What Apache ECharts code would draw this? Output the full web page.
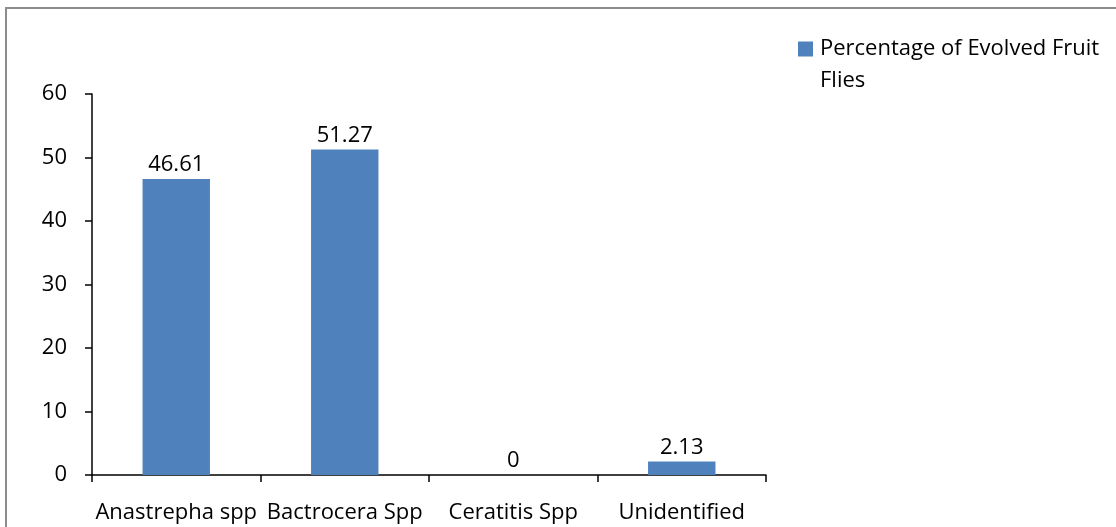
<!DOCTYPE html>
<html>
<head>
<meta charset="utf-8">
<script src="https://cdn.jsdelivr.net/npm/echarts@6/dist/echarts.min.js"></script>
<style>
  html, body { margin: 0; padding: 0; background: #fff; }
  #chart { width: 1116px; height: 527px; }
</style>
</head>
<body>
<div id="chart"></div>
<script>
// Fruit fly species share
const categories = ['Anastrepha spp', 'Bactrocera Spp', 'Ceratitis Spp', 'Unidentified'];
const percentages = [46.61, 51.27, 0, 2.13];
const seriesName = 'Percentage of Evolved Fruit Flies';
const yTicks = { min: 0, max: 60, interval: 10 };

const FONT = '"Open Sans", "Noto Sans", sans-serif';
const FS = 22;
const chart = echarts.init(document.getElementById('chart'), null, { renderer: 'canvas' });

chart.setOption({
  backgroundColor: '#ffffff',
  animation: false,
  textStyle: { fontFamily: FONT, color: '#000' },
  graphic: [
    {
      type: 'rect',
      shape: { x: 6, y: 8, width: 1120, height: 530 },
      style: { fill: 'none', stroke: '#8c8c8c', lineWidth: 2 },
      silent: true
    },
    {
      type: 'text',
      left: 820,
      top: 70,
      style: { text: 'Flies', font: FS + 'px ' + FONT, fill: '#000' },
      silent: true
    }
  ],
  legend: {
    left: 798,
    top: 38,
    padding: 0,
    itemWidth: 15,
    itemHeight: 15,
    itemGap: 6,
    formatter: function (name) { return name.replace(/\s+Flies$/, ''); },
    textStyle: { fontFamily: FONT, fontSize: FS, color: '#000', padding: [0, 0, 0, 2] },
    data: [{ name: seriesName, icon: 'rect', itemStyle: { borderWidth: 0 } }]
  },
  grid: { left: 92, right: 350, top: 94, bottom: 52, containLabel: false },
  xAxis: {
    type: 'category',
    data: categories,
    axisLine: { lineStyle: { color: '#000', width: 1.5 } },
    axisTick: { show: true, length: 7, alignWithLabel: false, lineStyle: { color: '#000', width: 1.5 } },
    axisLabel: { fontFamily: FONT, fontSize: FS, color: '#000', margin: 27, interval: 0 }
  },
  yAxis: {
    type: 'value',
    min: yTicks.min,
    max: yTicks.max,
    interval: yTicks.interval,
    splitLine: { show: false },
    axisLine: { show: true, lineStyle: { color: '#000', width: 1.5 } },
    axisTick: { show: true, length: 7, lineStyle: { color: '#000', width: 1.5 } },
    axisLabel: { fontFamily: FONT, fontSize: FS, color: '#000', margin: 25 }
  },
  series: [{
    name: seriesName,
    type: 'bar',
    data: percentages,
    barWidth: '40%',
    itemStyle: { color: '#4F81BD', borderWidth: 0 },
    label: {
      show: true,
      position: 'top',
      distance: 3,
      fontFamily: FONT,
      fontSize: FS,
      color: '#000',
      formatter: function (p) { return String(p.value); }
    }
  }]
});
</script>
</body>
</html>
